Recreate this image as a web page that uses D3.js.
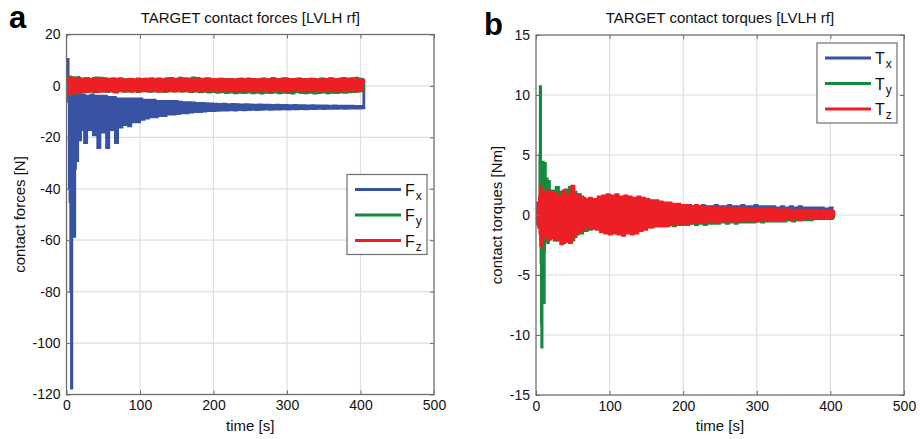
<!DOCTYPE html>
<html>
<head>
<meta charset="utf-8">
<script src="https://cdn.jsdelivr.net/npm/d3@7"></script>
<style>
    body { margin: 0; background: #fff; }
    svg { font-family: 'Liberation Sans', Arial, Helvetica, sans-serif; display: block; }
</style>
</head>
<body>
<svg id="chart" width="920" height="439"></svg>
<script>
// sample times [s]: dense at the start (0.5 s), then every 3 s, last sample at 405 s
var time = d3.range(0, 20.5, 0.5).concat(d3.range(23, 405, 3)).concat([405]);

var xTicks = [0, 100, 200, 300, 400, 500];
var forceTicks = [20, 0, -20, -40, -60, -80, -100, -120];
var torqueTicks = [15, 10, 5, 0, -5, -10, -15];

// contact forces [N]
var fx = [
    0, 1, 4, 7, 10.3, 2, -6, -3, -40, -3, -45, -3, -80, -4, -117.5, -3, -45, -3, -42, -3,
    -40, -3, -58.5, -4, -32, -3, -28, -3, -18, -3, -29, -3, -17, -3, -20, -3, -16, -3, -21, -3, -17,
    -3.5, -22, -4, -17, -3.5, -19, -4, -24, -4, -18,
    -4, -24, -4.5, -17, -4.5, -22, -5, -16, -5, -15,
    -5, -15.5, -5, -14, -5, -14, -5, -13, -5.5, -12.5,
    -5.5, -12, -5.5, -12, -6, -11.5, -6, -11.5, -6, -11,
    -6, -11, -6, -10.8, -6.3, -10.5, -6.5, -10.5, -6.5, -10.2,
    -6.6, -10, -6.8, -10, -6.8, -9.8, -6.9, -9.6, -7, -9.6,
    -7.1, -9.5, -7.2, -9.4, -7.1, -9.4, -7.3, -9.3, -7.2, -9.4,
    -7.3, -9.2, -7.4, -9.3, -7.3, -9.2, -7.4, -9.1, -7.5, -9.2,
    -7.4, -9.1, -7.5, -9.0, -7.5, -9.1, -7.6, -9.0, -7.5, -9.0,
    -7.6, -8.9, -7.6, -9.0, -7.7, -8.9, -7.6, -8.9, -7.7, -8.8,
    -7.7, -8.9, -7.8, -8.8, -7.7, -8.8, -7.8, -8.7, -7.8, -8.8,
    -7.8, -8.7, -7.9, -8.7, -7.8, -8.7, -7.9, -8.6, -7.9, -8.7,
    -7.9, -8.6, -7.9, -8.6, -8.0, -8.6, -8.0, -8.5,
    0.5
];
var fy = [
    0, 2.5, -2, 3, -2.5, 3.5, -3, 2, -3.5, 3, -2, 3.5, -3, 2.5, -2.5, 3, -3, 2, -2.5, 3.2,
    -2.2, 2.8, -3, 2.4, -2, 3.1, -2.6, 2.2, -2.8, 3, -2.1, 2.7, -2.5, 3.3, -2, 2.6, -2.7, 2.9, -2.3, 2.5, -2.4,
    2.6, -2.2, 2.9, -2.0, 2.4, -2.3, 3.1, -2.1, 3.0, -1.9,
    2.8, -2.2, 2.5, -2.0, 2.7, -2.4, 2.6, -1.8, 2.4, -2.1,
    2.3, -2.0, 2.5, -1.9, 2.2, -2.2, 2.4, -1.8, 2.6, -2.0,
    2.5, -2.1, 2.3, -1.9, 2.7, -2.0, 2.4, -2.2, 2.8, -1.9,
    2.9, -2.0, 2.6, -1.8, 3.0, -2.1, 2.8, -1.9, 2.7, -2.2,
    3.1, -2.0, 2.9, -2.3, 2.6, -2.1, 2.8, -2.4, 2.5, -2.2,
    2.4, -2.5, 2.6, -2.3, 2.3, -2.6, 2.5, -2.4, 2.2, -2.7,
    2.4, -2.5, 2.6, -2.6, 2.3, -2.4, 2.5, -2.7, 2.2, -2.5,
    2.4, -2.8, 2.7, -2.5, 2.3, -2.6, 2.9, -2.4, 2.5, -2.7,
    2.6, -2.5, 2.8, -2.6, 2.4, -2.8, 2.5, -2.3, 2.7, -2.6,
    2.5, -2.7, 2.3, -2.5, 2.6, -2.8, 2.4, -2.6, 2.7, -2.4,
    2.5, -2.7, 2.8, -2.5, 2.4, -2.6, 2.6, -2.4, 2.9, -2.5,
    2.7, -2.3, 2.8, -2.2, 3.0, -2.0, 2.6, -1.8,
    1.0
];
var fz = [
    0.5, -2, 2.8, -2.5, 3, -2.2, 2.5, -3, 2.9, -2.4, 3.2, -2.8, 2.6, -2.2, 3, -2.6, 2.4, -2.9, 2.8, -2.1,
    2.6, -2.5, 3, -2.3, 2.7, -2.6, 2.4, -2.2, 2.9, -2.4, 2.5, -2.7, 2.3, -2.2, 2.8, -2.5, 2.6, -2.1, 2.7, -2.3, 2.4,
    -2.0, 2.8, -2.3, 2.5, -1.9, 2.9, -2.2, 2.6, -2.0, 2.7,
    -2.1, 2.4, -1.8, 2.7, -2.2, 2.5, -1.9, 2.8, -2.0, 2.3,
    -1.8, 2.6, -2.1, 2.4, -1.9, 2.7, -2.0, 2.5, -1.7, 2.6,
    -2.0, 2.8, -1.8, 2.4, -2.1, 2.6, -1.9, 2.3, -2.0, 2.7,
    -1.8, 2.5, -2.0, 2.4, -1.9, 2.6, -1.7, 2.5, -2.0, 2.3,
    -1.9, 2.6, -1.8, 2.4, -2.0, 2.5, -1.7, 2.7, -1.9, 2.4,
    -1.8, 2.5, -2.0, 2.6, -1.7, 2.4, -1.9, 2.5, -1.8, 2.3,
    -2.0, 2.6, -1.8, 2.4, -1.9, 2.7, -1.7, 2.5, -2.0, 2.4,
    -1.9, 2.6, -1.8, 2.3, -2.0, 2.5, -1.7, 2.6, -1.9, 2.4,
    -1.8, 2.7, -2.0, 2.5, -1.9, 2.4, -1.8, 2.6, -1.7, 2.5,
    -2.0, 2.4, -1.8, 2.6, -1.9, 2.5, -1.7, 2.3, -2.0, 2.6,
    -1.8, 2.5, -1.9, 2.7, -1.8, 2.4, -2.0, 2.6, -1.7, 2.5,
    -1.9, 2.4, -1.8, 2.6, -2.0, 2.3, -1.6, 2.2,
    1.0
];

// contact torques [Nm]
var tx = [
    0, 0.5, -0.4, 0.8, -0.6, 1.0, -0.8, 0.9, -1.0, 0.7, -0.9, 1.1, -0.8, 0.9, -1.0, 1.2, -1.1, 0.9, -1.2, 1.0,
    -0.9, 1.1, -1.3, 1.0, -1.1, 1.2, -1.0, 1.3, -1.2, 1.1, -1.0, 1.2, -1.3, 1.0, -1.1, 1.3, -1.2, 1.1, -1.3, 1.2, -1.0,
    1.3, -1.2, 1.2, -1.3, 1.3, -1.1, 1.2, -1.2, 1.1, -1.2,
    1.2, -1.1, 1.1, -1.1, 1.0, -1.0, 1.1, -1.0, 1.0, -1.1,
    1.0, -1.0, 1.1, -0.9, 1.0, -1.0, 0.9, -1.0, 1.0, -0.9,
    0.9, -0.9, 1.0, -0.9, 0.9, -0.8, 0.9, -0.9, 0.8, -0.8,
    0.8, -0.8, 0.9, -0.7, 0.8, -0.7, 0.8, -0.7, 0.8, -0.6,
    0.8, -0.6, 0.7, -0.6, 0.8, -0.6, 0.7, -0.5, 0.8, -0.5,
    0.7, -0.5, 0.8, -0.5, 0.7, -0.4, 0.7, -0.5, 0.8, -0.4,
    0.7, -0.4, 0.7, -0.4, 0.8, -0.4, 0.7, -0.3, 0.7, -0.4,
    0.8, -0.3, 0.7, -0.4, 0.7, -0.3, 0.8, -0.3, 0.7, -0.3,
    0.7, -0.3, 0.8, -0.3, 0.7, -0.2, 0.7, -0.3, 0.7, -0.2,
    0.7, -0.2, 0.6, -0.2, 0.7, -0.2, 0.6, -0.2, 0.7, -0.2,
    0.6, -0.2, 0.7, -0.1, 0.6, -0.2, 0.6, -0.1, 0.6, -0.2,
    0.6, -0.1, 0.6, -0.1, 0.5, -0.1, 0.6, 0.0,
    0.2
];
var ty = [
    0, -0.3, 0.4, -0.5, 0.6, -0.4, 0.5, -0.6, 0.8, -0.5, 1.5, 5, 10.7, 3, -4, -9, -11, -4, 2, 4.4,
    4.2, -2, -7.3, -3, 3.8, 4.3, 1, -2, -2.2, 0, 3, 2.5, -1.5, -2.3, -1.8, 1.5, 2.8, 1.2, -1.9, -2, 0.5,
    2.0, -2.1, 2.3, -1.8, 1.9, -2.3, 2.1, -1.9, 2.3, -2.1,
    1.9, -1.6, 1.7, -1.5, 1.4, -1.3, 1.2, -1.2, 1.1, -1.0,
    1.0, -1.1, 1.2, -1.0, 1.1, -1.2, 1.0, -1.1, 1.2, -1.0,
    1.1, -1.2, 1.0, -1.1, 1.2, -1.0, 1.1, -1.1, 1.0, -1.0,
    0.9, -1.0, 0.9, -0.9, 0.8, -1.0, 0.8, -0.9, 0.7, -0.9,
    0.7, -0.9, 0.6, -0.8, 0.6, -0.9, 0.5, -0.8, 0.5, -0.8,
    0.5, -0.8, 0.4, -0.7, 0.5, -0.8, 0.4, -0.7, 0.4, -0.8,
    0.4, -0.7, 0.3, -0.7, 0.4, -0.7, 0.3, -0.6, 0.3, -0.7,
    0.3, -0.6, 0.3, -0.7, 0.3, -0.6, 0.2, -0.6, 0.3, -0.6,
    0.2, -0.6, 0.3, -0.5, 0.2, -0.6, 0.2, -0.5, 0.2, -0.5,
    0.2, -0.5, 0.2, -0.5, 0.1, -0.5, 0.2, -0.4, 0.1, -0.5,
    0.1, -0.4, 0.2, -0.4, 0.1, -0.4, 0.1, -0.4, 0.1, -0.3,
    0.1, -0.3, 0.1, -0.3, 0.0, -0.3, 0.1, -0.2,
    0.0
];
var tz = [
    0.2, -0.5, 0.6, -0.4, 0.8, -0.7, 0.9, -0.8, 1.0, -1.0, 1.5, -1.5, 2.3, -2.5, 2.4, -2.6, 1.8, -1.5, 1.2, -1.0,
    1.4, -1.6, 1.9, -1.2, 1.6, -1.8, 1.2, -1.4, 1.8, -2.0, 1.5, -1.2, 2.0, -1.7, 1.4, -2.1, 1.9, -1.3, 1.6, -1.9, 1.8,
    -1.9, 1.8, -2.1, 1.6, -2.4, 2.0, -2.2, 1.7, -2.3, 2.4,
    -1.8, 1.7, -1.4, 1.5, -1.2, 1.3, -1.0, 1.4, -1.1, 1.3,
    -1.2, 1.5, -1.4, 1.6, -1.5, 1.7, -1.6, 1.6, -1.5, 1.7,
    -1.6, 1.5, -1.7, 1.6, -1.5, 1.5, -1.6, 1.4, -1.5, 1.5,
    -1.3, 1.4, -1.2, 1.3, -1.0, 1.2, -0.9, 1.2, -0.9, 1.1,
    -0.9, 1.0, -0.9, 1.0, -0.8, 0.9, -0.8, 0.9, -0.7, 0.8,
    -0.7, 0.8, -0.7, 0.7, -0.6, 0.8, -0.6, 0.7, -0.6, 0.7,
    -0.6, 0.6, -0.5, 0.7, -0.6, 0.6, -0.5, 0.6, -0.5, 0.6,
    -0.5, 0.6, -0.5, 0.5, -0.5, 0.6, -0.4, 0.5, -0.5, 0.5,
    -0.4, 0.5, -0.5, 0.5, -0.4, 0.5, -0.4, 0.5, -0.4, 0.5,
    -0.4, 0.5, -0.4, 0.4, -0.4, 0.5, -0.3, 0.4, -0.4, 0.4,
    -0.3, 0.4, -0.4, 0.4, -0.3, 0.4, -0.3, 0.4, -0.3, 0.4,
    -0.3, 0.3, -0.3, 0.4, -0.3, 0.3, -0.3, 0.3,
    0.0
];

var COLORS = ['#3953a4', '#17893c', '#ed1f24'];

var svg = d3.select('#chart');

function drawPanel(p) {
    var x = d3.scaleLinear().domain([0, 500]).range([p.left, p.right]);
    var y = d3.scaleLinear().domain([p.yTicks[p.yTicks.length - 1], p.yTicks[0]]).range([p.bottom, p.top]);
    var g = svg.append('g');

    g.append('clipPath').attr('id', p.id + '-clip')
        .append('rect')
        .attr('x', p.left).attr('y', p.top)
        .attr('width', p.right - p.left).attr('height', p.bottom - p.top);

    // grid
    g.selectAll('line.vgrid').data(xTicks.slice(1, -1)).enter()
        .append('line')
        .attr('x1', function (d) { return x(d); })
        .attr('x2', function (d) { return x(d); })
        .attr('y1', p.top).attr('y2', p.bottom)
        .style('stroke', '#dedede').style('stroke-width', 1.2);
    g.selectAll('line.hgrid').data(p.yTicks.slice(1, -1)).enter()
        .append('line')
        .attr('y1', function (d) { return y(d); })
        .attr('y2', function (d) { return y(d); })
        .attr('x1', p.left).attr('x2', p.right)
        .style('stroke', '#dedede').style('stroke-width', 1.2);

    // series, drawn as steps like the sampled signal in the original
    var line = d3.line()
        .curve(d3.curveStep)
        .x(function (d, i) { return x(time[i]); })
        .y(function (d) { return y(d); });
    g.append('g').attr('clip-path', 'url(#' + p.id + '-clip)')
        .selectAll('path').data(p.series).enter()
        .append('path')
        .attr('d', function (d) { return line(d.values); })
        .style('fill', 'none')
        .style('stroke', function (d, i) { return COLORS[i]; })
        .style('stroke-width', 2.8)
        .style('stroke-linejoin', 'miter');

    // axes, ticks pointing inward
    var fmt = function (d) { return String(d); };
    var axes = [
        [d3.axisBottom(x).tickValues(xTicks).tickFormat(fmt), 'translate(0,' + p.bottom + ')'],
        [d3.axisTop(x).tickValues(xTicks).tickFormat(''), 'translate(0,' + p.top + ')'],
        [d3.axisLeft(y).tickValues(p.yTicks).tickFormat(fmt), 'translate(' + p.left + ',0)'],
        [d3.axisRight(y).tickValues(p.yTicks).tickFormat(''), 'translate(' + p.right + ',0)']
    ];
    axes.forEach(function (a) {
        var ax = g.append('g').attr('transform', a[1])
            .call(a[0].tickSize(-4).tickPadding(6));
        ax.select('.domain').remove();
        ax.selectAll('line').style('stroke', '#6e6e6e');
        ax.selectAll('text').style('font-size', '14px').style('fill', '#111').style('font-family', null);
    });
    g.append('rect')
        .attr('x', p.left).attr('y', p.top)
        .attr('width', p.right - p.left).attr('height', p.bottom - p.top)
        .style('fill', 'none').style('stroke', '#6e6e6e').style('stroke-width', 1.3);

    // titles and labels
    g.append('text')
        .attr('x', (p.left + p.right) / 2).attr('y', 23)
        .attr('text-anchor', 'middle')
        .style('font-size', '15px').style('fill', '#111')
        .text(p.title);
    g.append('text')
        .attr('x', (p.left + p.right) / 2).attr('y', 431)
        .attr('text-anchor', 'middle')
        .style('font-size', '15px').style('fill', '#111')
        .text('time [s]');
    g.append('text')
        .attr('transform', 'translate(' + p.yLabelX + ',' + (p.top + p.bottom) / 2 + ') rotate(-90)')
        .attr('text-anchor', 'middle')
        .style('font-size', '15px').style('fill', '#111')
        .text(p.yLabel);
    g.append('text')
        .attr('x', p.tagX).attr('y', p.tagY)
        .style('font-size', '31px').style('font-weight', 'bold').style('fill', '#000')
        .text(p.tag);

    // legend
    var lg = g.append('g').attr('transform', 'translate(' + p.legend[0] + ',' + p.legend[1] + ')');
    lg.append('rect')
        .attr('width', 80).attr('height', 80)
        .style('fill', '#fff').style('stroke', '#6e6e6e').style('stroke-width', 1.2);
    var items = lg.selectAll('g.item').data(p.series).enter()
        .append('g')
        .attr('transform', function (d, i) { return 'translate(0,' + (15 + i * 25.5) + ')'; });
    items.append('line')
        .attr('x1', 8).attr('x2', 54)
        .style('stroke', function (d, i) { return COLORS[i]; })
        .style('stroke-width', 2.8);
    var label = items.append('text')
        .attr('x', 58).attr('y', 6)
        .style('font-size', '16px').style('fill', '#111');
    label.append('tspan').text(function (d) { return d.name; });
    label.append('tspan').attr('dx', 1).attr('dy', 4)
        .style('font-size', '12px')
        .text(function (d) { return d.sub; });
}

drawPanel({
    id: 'forces', left: 66.5, right: 434, top: 34.5, bottom: 394.5,
    yTicks: forceTicks,
    title: 'TARGET contact forces [LVLH rf]',
    yLabel: 'contact forces [N]', yLabelX: 25,
    tag: 'a', tagX: 9, tagY: 28,
    legend: [347, 174.5],
    series: [
        { name: 'F', sub: 'x', values: fx },
        { name: 'F', sub: 'y', values: fy },
        { name: 'F', sub: 'z', values: fz }
    ]
});

drawPanel({
    id: 'torques', left: 536, right: 904, top: 35, bottom: 395,
    yTicks: torqueTicks,
    title: 'TARGET contact torques [LVLH rf]',
    yLabel: 'contact torques [Nm]', yLabelX: 502,
    tag: 'b', tagX: 484, tagY: 35,
    legend: [817, 43],
    series: [
        { name: 'T', sub: 'x', values: tx },
        { name: 'T', sub: 'y', values: ty },
        { name: 'T', sub: 'z', values: tz }
    ]
});

[fx, fy, fz, tx, ty, tz].forEach(function (s, i) {
    if (s.length !== time.length) console.error('series ' + i + ' has ' + s.length + ' values, expected ' + time.length);
});
</script>
</body>
</html>
